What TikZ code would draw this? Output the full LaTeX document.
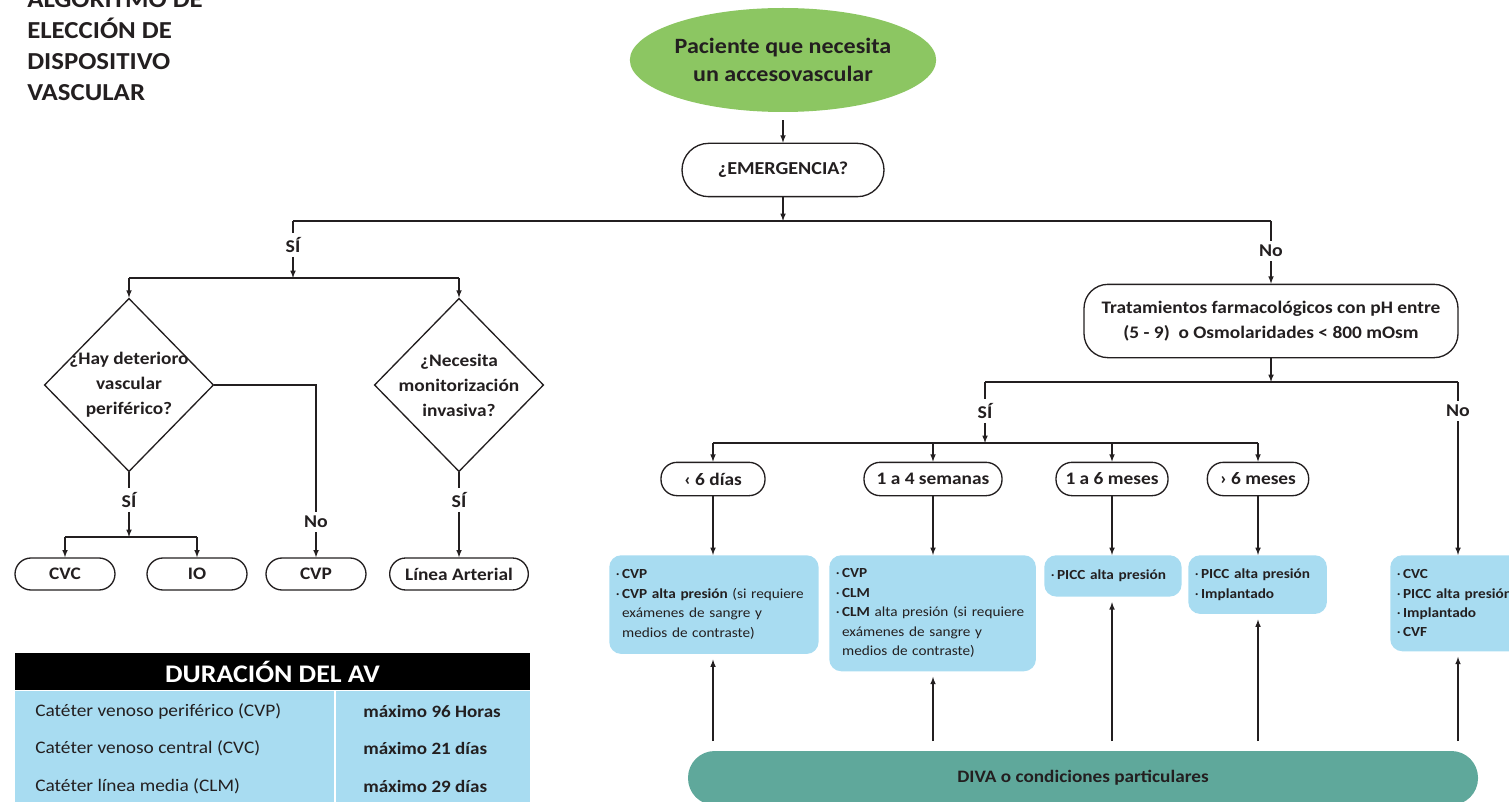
\documentclass[tikz,border=0pt]{standalone}
\usepackage{fontspec}
\setmainfont{Carlito}[FakeStretch=1.1]
\usetikzlibrary{shapes.geometric}

\definecolor{vgreen}{RGB}{140,198,98}
\definecolor{vblue}{RGB}{168,220,241}
\definecolor{vteal}{RGB}{95,168,155}
\definecolor{vink}{RGB}{35,31,32}

\newcommand{\bul}{·\,}
\newcommand{\bulsp}{\phantom{·\,}}

\begin{document}
\begin{tikzpicture}[x=0.75pt,y=0.75pt,yscale=-1,xscale=1,
  every node/.style={text=vink},
  line/.style={draw=vink, line width=0.9pt},
  arr/.style={line, ->, >=latex},
  up/.style={arr, shorten <=7pt, shorten >=4pt},
  pill/.style={draw=vink, line width=1pt, fill=white, rounded corners=12pt, minimum height=24pt, font=\bfseries\fontsize{13.2}{15}\selectfont},
  lbl/.style={font=\bfseries\fontsize{13.5}{15}\selectfont, inner sep=3pt},
  diam/.style={draw=vink, line width=1pt, diamond, minimum width=127pt, minimum height=130pt, inner sep=0pt},
  dtext/.style={align=center, font=\bfseries\fontsize{13.2}{18.75}\selectfont},
  bluebox/.style={fill=vblue, rounded corners=9pt, align=left, anchor=north west, inner xsep=5pt, font=\fontsize{10.4}{14.6}\selectfont},
  rowl/.style={anchor=west, inner sep=0pt, font=\fontsize{13.2}{14}\selectfont},
  rowr/.style={anchor=west, inner sep=0pt, font=\bfseries\fontsize{13}{14}\selectfont}]

\useasboundingbox (0,0) rectangle (1509,802);

%%%%%%%%%%%%%%%%%%%%%%%%%%%%%%%%%%%%%%%%%%%%%%%%%%%%%%%%%%%%%%%%%%%%%%%%

\node [anchor=south west, inner sep=0pt, align=left, font=\bfseries\fontsize{18.3}{23.25}\selectfont] (title) at (27,101) {ALGORITMO DE\\ELECCIÓN DE\\DISPOSITIVO\\VASCULAR};

\node [ellipse, fill=vgreen, inner sep=0pt, minimum width=224pt, minimum height=78pt, align=center, font=\bfseries\fontsize{16.4}{21}\selectfont] (start) at (783,60) {Paciente que necesita\\un accesovascular};

\node [pill, rounded corners=20pt, minimum width=151.5pt, minimum height=40pt, font=\bfseries\fontsize{13.7}{15}\selectfont] (emerg) at (783,170) {¿EMERGENCIA?};

\draw [arr, shorten <=6pt] (start) -- (emerg);

\coordinate (j1) at (783,221);
\coordinate (jsi) at (293,221);
\coordinate (jno) at (1271,221);
\draw [arr] (emerg) -- (j1);
\draw [line] (jsi) -- (jno);

%%%%%%%%%%%%%%%%%%%%%%%%%%%%%%%%%%%%%%%%%%%%%%%%%%%%%%%%%%%%%%%%%%%%%%%%

\node [lbl] (si1) at (293,245) {SÍ};
\coordinate (j2) at (293,278);
\coordinate (jl1) at (129,278);
\coordinate (jr1) at (459,278);
\draw [line] (jsi) -- (si1);
\draw [arr] (si1) -- (j2);
\draw [line] (jl1) -- (jr1);

\node [diam] (d1) at (129,385) {};
\node [dtext] (d1t) at (d1) {¿Hay deterioro\\vascular\\periférico?};
\node [diam] (d2) at (459,385) {};
\node [dtext] (d2t) at (d2) {¿Necesita\\monitorización\\invasiva?};
\draw [arr] (jl1) -- (d1.north);
\draw [arr] (jr1) -- (d2.north);

\node [lbl] (si2) at (129,500) {SÍ};
\coordinate (j3) at (129,537);
\coordinate (jcvc) at (65,537);
\coordinate (jio) at (197,537);
\draw [line] (d1.south) -- (si2);
\draw [arr] (si2) -- (j3);
\draw [line] (jcvc) -- (jio);

\node [pill, minimum width=75pt] (cvc) at (65,574) {CVC};
\node [pill, minimum width=75pt] (io) at (197,574) {IO};
\draw [arr] (jcvc) -- (cvc);
\draw [arr] (jio) -- (io);

\node [lbl] (no2) at (316,522) {No};
\node [pill, minimum width=75pt] (cvp) at (316,574) {CVP};
\draw [line] (d1.east) -| (no2);
\draw [arr] (no2) -- (cvp);

\node [lbl] (si3) at (459,500) {SÍ};
\node [pill, minimum width=104pt] (art) at (459,574) {Línea Arterial};
\draw [line] (d2.south) -- (si3);
\draw [arr] (si3) -- (art);

%%%%%%%%%%%%%%%%%%%%%%%%%%%%%%%%%%%%%%%%%%%%%%%%%%%%%%%%%%%%%%%%%%%%%%%%

\node [lbl] (no1) at (1271,251) {No};
\node [pill, rounded corners=18pt, minimum width=280.5pt, minimum height=55pt, align=center, font=\bfseries\fontsize{13.2}{19}\selectfont] (trat) at (1271,321) {Tratamientos farmacológicos con pH entre\\(5 - 9)\ \ o Osmolaridades < 800 mOsm};
\draw [line] (jno) -- (no1);
\draw [arr] (no1) -- (trat);

\coordinate (j4) at (1271,382);
\coordinate (jsi4) at (985,382);
\coordinate (jno4) at (1458,382);
\draw [arr] (trat) -- (j4);
\draw [line] (jsi4) -- (jno4);

\node [lbl] (si4) at (985,411) {SÍ};
\node [lbl] (no3) at (1458,411) {No};
\coordinate (j5) at (985,443);
\coordinate (jp1) at (713,443);
\coordinate (jp4) at (1258,443);
\draw [line] (jsi4) -- (si4);
\draw [arr] (si4) -- (j5);
\draw [line] (jp1) -- (jp4);
\draw [line] (jno4) -- (no3);

\node [pill, minimum width=78pt, minimum height=25pt] (p1) at (713,479) {‹ 6 días};
\node [pill, minimum width=103.5pt, minimum height=25pt] (p2) at (933,479) {1 a 4 semanas};
\node [pill, minimum width=84pt, minimum height=25pt] (p3) at (1112,479) {1 a 6 meses};
\node [pill, minimum width=76pt, minimum height=25pt] (p4) at (1258,479) {› 6 meses};
\foreach \p in {p1,p2,p3,p4}
  \draw [arr] (\p |- jp1) -- (\p.north);

%%%%%%%%%%%%%%%%%%%%%%%%%%%%%%%%%%%%%%%%%%%%%%%%%%%%%%%%%%%%%%%%%%%%%%%%

\node [bluebox, text width=147pt, minimum height=74pt] (b1) at (609,555) {\bul\textbf{CVP}\\\bul\textbf{CVP alta presión} (si requiere\\\bulsp exámenes de sangre y\\\bulsp medios de contraste)};
\node [bluebox, text width=145pt, minimum height=87pt] (b2) at (829,555) {\bul\textbf{CVP}\\\bul\textbf{CLM}\\\bul\textbf{CLM} alta presión (si requiere\\\bulsp exámenes de sangre y\\\bulsp medios de contraste)};
\node [bluebox, text width=93pt, minimum height=31pt] (b3) at (1044,555) {\bul\textbf{PICC alta presión}};
\node [bluebox, text width=94pt, minimum height=44pt] (b4) at (1188,555) {\bul\textbf{PICC alta presión}\\\bul\textbf{Implantado}};
\node [bluebox, text width=95pt, minimum height=72pt] (b5) at (1390,555) {\bul\textbf{CVC}\\\bul\textbf{PICC alta presión}\\\bul\textbf{Implantado}\\\bul\textbf{CVF}};

\draw [arr] (p1) -- (p1 |- b1.north);
\draw [arr] (p2) -- (p2 |- b2.north);
\draw [arr] (p3) -- (p3 |- b3.north);
\draw [arr] (p4) -- (p4 |- b4.north);
\draw [arr] (no3) -- (no3 |- b5.north);

\node [pill, draw=none, fill=vteal, rounded corners=20pt, minimum width=592.5pt, minimum height=40.5pt, font=\bfseries\fontsize{13.1}{15}\selectfont] (diva) at (1083,778) {DIVA o condiciones particulares};

\draw [up] (p1 |- diva.north) -- (p1 |- b1.south);
\draw [up] (p2 |- diva.north) -- (p2 |- b2.south);
\draw [up] (p3 |- diva.north) -- (p3 |- b3.south);
\draw [up] (p4 |- diva.north) -- (p4 |- b4.south);
\draw [up] (no3 |- diva.north) -- (no3 |- b5.south);

%%%%%%%%%%%%%%%%%%%%%%%%%%%%%%%%%%%%%%%%%%%%%%%%%%%%%%%%%%%%%%%%%%%%%%%%

\node [fill=black, text=white, minimum width=386.25pt, minimum height=27.75pt, inner sep=0pt, font=\bfseries\fontsize{19}{20}\selectfont] (hdr) at (272.5,671.5) {DURACIÓN DEL AV};
\node [fill=vblue, anchor=north, minimum width=386.25pt, minimum height=90pt, inner sep=0pt] (tbl) at (hdr.south) {};
\coordinate (div) at (335,690);
\draw [white, line width=1.2pt] (div) -- (div |- tbl.south);

\node [rowl] (r1l) at (35,711) {Catéter venoso periférico (CVP)};
\node [rowr] (r1r) at (363,711) {máximo 96 Horas};
\node [rowl] (r2l) at (35,748) {Catéter venoso central (CVC)};
\node [rowr] (r2r) at (363,748) {máximo 21 días};
\node [rowl] (r3l) at (35,786) {Catéter línea media (CLM)};
\node [rowr] (r3r) at (363,786) {máximo 29 días};

%%%%%%%%%%%%%%%%%%%%%%%%%%%%%%%%%%%%%%%%%%%%%%%%%%%%%%%%%%%%%%%%%%%%%%%%

\end{tikzpicture}
\end{document}
